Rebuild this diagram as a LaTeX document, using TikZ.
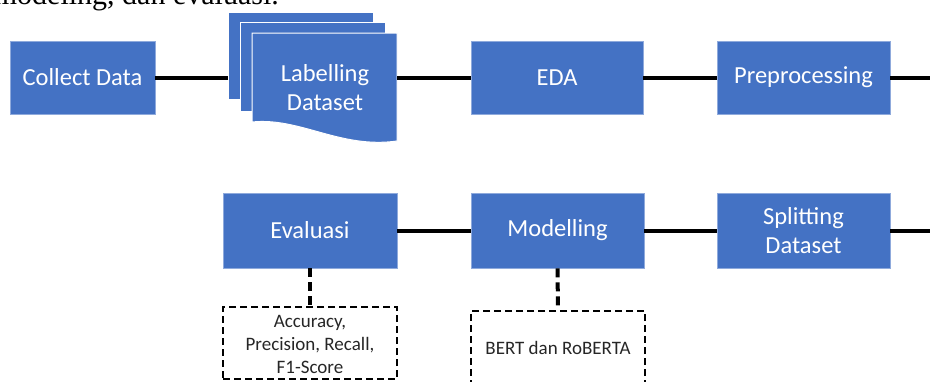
\documentclass[tikz,border=0pt]{standalone}
\usepackage{fontspec}
\setmainfont{Carlito}
\newfontfamily\serifx{Liberation Serif}
\definecolor{boxblue}{HTML}{4472C4}
\definecolor{boxedge}{HTML}{8FAADC}
\begin{document}
\begin{tikzpicture}[x=1pt,y=-1pt,
  proc/.style={fill=boxblue, draw=boxedge, line width=0.8pt, text=white,
    font=\fontsize{24.5}{29}\selectfont, align=center, inner sep=0pt},
  sheet/.style={fill=boxblue, draw=white, line width=1pt, inner sep=0pt},
  conn/.style={line width=4pt, black},
  dconn/.style={line width=4pt, black, dash pattern=on 9pt off 5pt},
  notebox/.style={draw=black, line width=1.8pt, dash pattern=on 7pt off 4pt, inner sep=0pt},
  notetext/.style={font=\fontsize{19}{23}\selectfont, align=center, text=black!85, inner sep=0pt}]
\useasboundingbox (0,0) rectangle (930,381);
\clip (0,0) rectangle (930,381);

% clipped running text at top
\node[anchor=base east, font=\serifx\fontsize{30}{32}\selectfont, inner sep=0pt] (toptext) at (279,4) {modeling, dan evaluasi.};

% top row
\node[proc, minimum width=145pt, minimum height=73pt] (collect) at (82.5,77.5) {Collect Data};
\node[sheet, minimum width=145pt, minimum height=87pt] (docback) at (300.5,55.5) {};
\node[sheet, minimum width=145pt, minimum height=89pt] (docmid) at (312.5,66.5) {};
\fill[boxblue, draw=white, line width=1pt] (252,33) -- (397,33) -- (397,141)
  .. controls (340,149) and (300,117) .. (252,122) -- cycle;
\coordinate (docfrontE) at (397,77.5);
\node[text=white, font=\fontsize{24.5}{29}\selectfont, align=center, inner sep=0pt] (label) at (325,88) {Labelling\\Dataset};
\node[proc, minimum width=172pt, minimum height=73pt] (eda) at (557,77.5) {EDA};
\node[proc, minimum width=173pt, minimum height=73pt] (prep) at (803.5,77.5) {Preprocessing};
\coordinate (end1) at (931,77.5);

% bottom row
\node[proc, minimum width=174pt, minimum height=75pt] (eval) at (310,230.5) {Evaluasi};
\node[proc, minimum width=173pt, minimum height=75pt] (model) at (557.5,230.5) {Modelling};
\node[proc, minimum width=173pt, minimum height=75pt] (split) at (803.5,230.5) {Splitting\\Dataset};
\coordinate (end2) at (931,230.5);

% notes
\node[notebox, minimum width=174pt, minimum height=72pt] (accbox) at (310,343) {};
\node[notetext] (acc) at (310,344) {Accuracy,\\Precision, Recall,\\F1-Score};
\node[notebox, minimum width=174pt, minimum height=89pt] (bertbox) at (558,355.5) {};
\node[notetext] (bert) at (558,348) {BERT dan RoBERTA};

% connectors
\draw[conn] (collect.east) -- (collect.east -| docback.west);
\draw[conn] (docfrontE) -- (eda.west);
\draw[conn] (eda.east) -- (prep.west);
\draw[conn] (prep.east) -- (end1);
\draw[conn] (eval.east) -- (model.west);
\draw[conn] (model.east) -- (split.west);
\draw[conn] (split.east) -- (end2);
\draw[dconn] (eval.south) -- (accbox.north);
\draw[dconn] (model.south) -- (bertbox.north);
\end{tikzpicture}
\end{document}
